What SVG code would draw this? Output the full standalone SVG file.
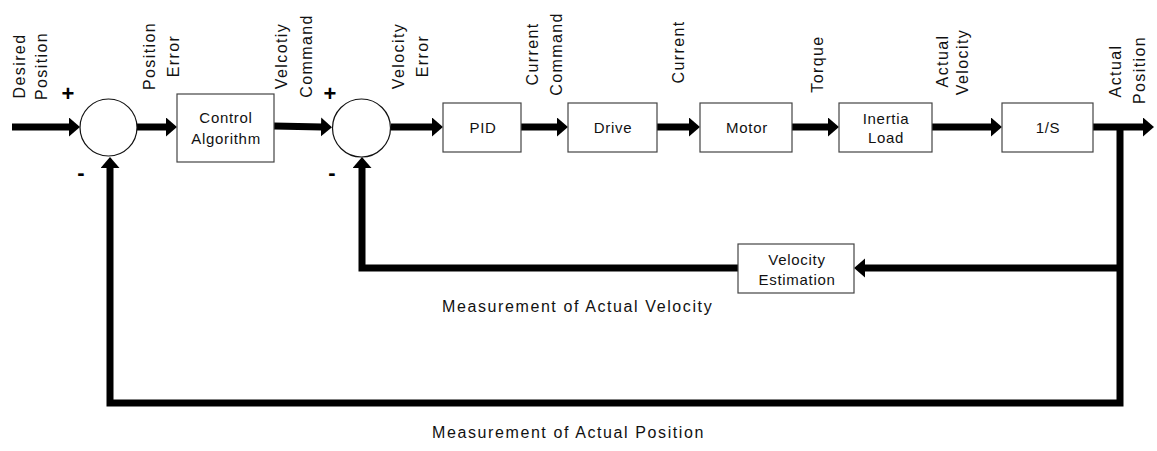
<svg xmlns="http://www.w3.org/2000/svg" width="1157" height="451" viewBox="0 0 1157 451">
<style>
  .box { fill: #fff; stroke: #444; stroke-width: 1.2; }
  .sum { fill: #fff; stroke: #111; stroke-width: 1.2; }
  .bt { font-family: "Liberation Sans", Arial, sans-serif; font-size: 15px; letter-spacing: 0.7px; fill: #111; text-anchor: middle; }
  .lbl { font-family: "Liberation Sans", Arial, sans-serif; font-size: 16px; letter-spacing: 1.4px; fill: #111; text-anchor: middle; }
  .cap { font-family: "Liberation Sans", Arial, sans-serif; font-size: 16px; letter-spacing: 1.6px; fill: #111; }
  .sign { font-family: "Liberation Sans", Arial, sans-serif; font-size: 22px; font-weight: bold; fill: #000; text-anchor: middle; }
  .wire { fill: none; stroke: #000; stroke-width: 7; stroke-linejoin: miter; }
</style>
<defs>
  <marker id="ah" markerUnits="userSpaceOnUse" markerWidth="13" markerHeight="20" refX="1" refY="9.5" orient="auto">
    <path d="M0,0 L11,9.5 L0,19 z" fill="#000"/>
  </marker>
</defs>

<g id="connectors">
  <path class="wire" d="M12,127 H70" marker-end="url(#ah)"/>
  <path class="wire" d="M137,127 H167" marker-end="url(#ah)"/>
  <path class="wire" d="M274,126 L322,127" marker-end="url(#ah)"/>
  <path class="wire" d="M391,127 H433" marker-end="url(#ah)"/>
  <path class="wire" d="M521,127 H558" marker-end="url(#ah)"/>
  <path class="wire" d="M657,127 H690" marker-end="url(#ah)"/>
  <path class="wire" d="M792,127 H829" marker-end="url(#ah)"/>
  <path class="wire" d="M932,127 H992" marker-end="url(#ah)"/>
  <path class="wire" d="M1093,127 H1144" marker-end="url(#ah)"/>
  <path class="wire" d="M1120,127 V403 H110 V167" marker-end="url(#ah)"/>
  <path class="wire" d="M1120,268 H864" marker-end="url(#ah)"/>
  <path class="wire" d="M738,268 H362 V167" marker-end="url(#ah)"/>
</g>

<g id="sum1">
  <circle class="sum" cx="108.5" cy="127.5" r="28.5"/>
  <text class="sign" x="68" y="101">+</text>
  <text class="sign" x="81" y="180">-</text>
</g>
<g id="sum2">
  <circle class="sum" cx="361.5" cy="128" r="29"/>
  <text class="sign" x="330" y="101">+</text>
  <text class="sign" x="332" y="180">-</text>
</g>

<g id="control-algorithm">
  <rect class="box" x="177" y="94" width="97" height="68"/>
  <text class="bt" x="226" y="123">Control</text>
  <text class="bt" x="226" y="144">Algorithm</text>
</g>
<g id="pid">
  <rect class="box" x="443" y="103" width="78" height="49"/>
  <text class="bt" x="483" y="133">PID</text>
</g>
<g id="drive">
  <rect class="box" x="568" y="103" width="89" height="49"/>
  <text class="bt" x="613" y="133">Drive</text>
</g>
<g id="motor">
  <rect class="box" x="700" y="103" width="92" height="49"/>
  <text class="bt" x="747" y="133">Motor</text>
</g>
<g id="inertia-load">
  <rect class="box" x="839" y="103" width="93" height="49"/>
  <text class="bt" x="886" y="123.5">Inertia</text>
  <text class="bt" x="886" y="143">Load</text>
</g>
<g id="integrator">
  <rect class="box" x="1002" y="103" width="91" height="49"/>
  <text class="bt" x="1048" y="133">1/S</text>
</g>
<g id="velocity-estimation">
  <rect class="box" x="738" y="244" width="116" height="49"/>
  <text class="bt" x="797" y="264.5">Velocity</text>
  <text class="bt" x="797" y="285">Estimation</text>
</g>

<g id="labels">
  <text class="lbl" transform="translate(24.5,66) rotate(-90)">Desired</text>
  <text class="lbl" transform="translate(47,66) rotate(-90)">Position</text>
  <text class="lbl" transform="translate(155,56) rotate(-90)">Position</text>
  <text class="lbl" transform="translate(179,56) rotate(-90)">Error</text>
  <text class="lbl" transform="translate(287,56) rotate(-90)">Velcotiy</text>
  <text class="lbl" transform="translate(312,56) rotate(-90)">Command</text>
  <text class="lbl" transform="translate(404,56) rotate(-90)">Velocity</text>
  <text class="lbl" transform="translate(428,56) rotate(-90)">Error</text>
  <text class="lbl" transform="translate(538,54) rotate(-90)">Current</text>
  <text class="lbl" transform="translate(562,54) rotate(-90)">Command</text>
  <text class="lbl" transform="translate(684,52) rotate(-90)">Current</text>
  <text class="lbl" transform="translate(823,64) rotate(-90)">Torque</text>
  <text class="lbl" transform="translate(948,61) rotate(-90)">Actual</text>
  <text class="lbl" transform="translate(968,62) rotate(-90)">Velocity</text>
  <text class="lbl" transform="translate(1121,71) rotate(-90)">Actual</text>
  <text class="lbl" transform="translate(1145,70) rotate(-90)">Position</text>
  <text class="cap" x="442" y="312">Measurement of Actual Velocity</text>
  <text class="cap" x="432" y="438">Measurement of Actual Position</text>
</g>
</svg>
